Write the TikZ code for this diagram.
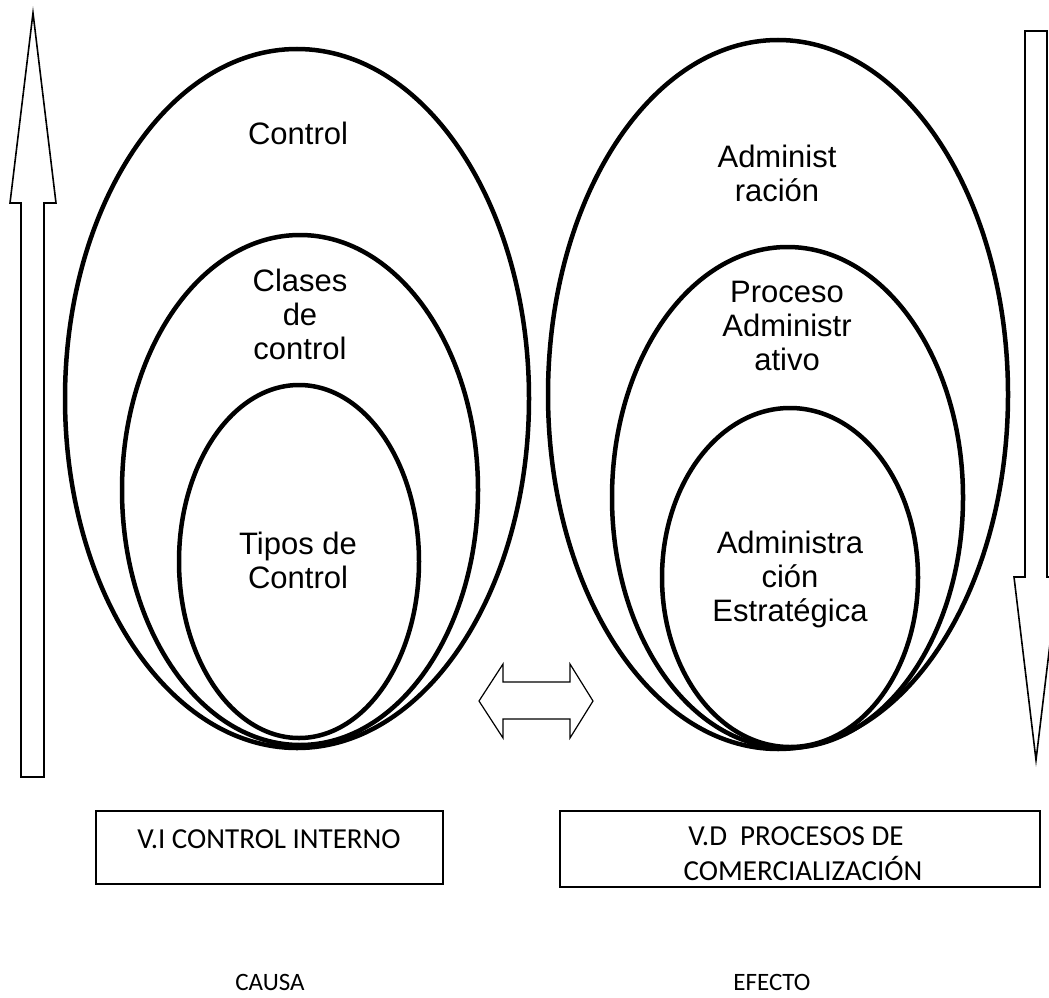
\documentclass[tikz,border=0pt]{standalone}
\usepackage{fontspec}
\setmainfont{Liberation Sans}
\newfontfamily\calib{Carlito}
\usetikzlibrary{shapes.geometric}
\begin{document}
\begin{tikzpicture}[x=1pt,y=-1pt,
  oval/.style={draw,ellipse,line width=4.5pt,inner sep=0pt},
  lbl/.style={align=center,inner sep=0pt,font=\fontsize{31}{34}\selectfont},
  blockarrow/.style={draw,line width=1.6pt,line join=miter,fill=white},
  framebox/.style={draw,line width=1.3pt,rectangle,inner sep=0pt},
  boxtext/.style={align=center,inner sep=0pt,font=\calib\fontsize{29}{35}\selectfont},
  foottext/.style={inner sep=0pt,font=\calib\fontsize{25}{30}\selectfont}]
\useasboundingbox (0,0) rectangle (1049,998);
\clip (0,0) rectangle (1049,998);
% left ellipses
\node[oval,minimum width=464pt,minimum height=699pt] (L1) at (297,398.5) {};
\node[oval,minimum width=356pt,minimum height=510pt] (L2) at (300,490) {};
\node[oval,minimum width=240pt,minimum height=353pt] (L3) at (299,561.5) {};
% right ellipses
\node[oval,minimum width=460pt,minimum height=709pt] (R1) at (778,394.5) {};
\node[oval,minimum width=351pt,minimum height=501pt] (R2) at (787.5,497.5) {};
\node[oval,minimum width=256pt,minimum height=339pt] (R3) at (790,577.5) {};
% labels
\node[lbl] (tL1) at (298,133) {Control};
\node[lbl] (tL2) at (300,314) {Clases\\de\\control};
\node[lbl] (tL3) at (298,560) {Tipos de\\Control};
\node[lbl] (tR1) at (777,173) {Administ\\ración};
\node[lbl] (tR2) at (787,326) {Proceso\\Administr\\ativo};
\node[lbl] (tR3) at (790,579) {Administra\\ción\\Estratégica};
% left up arrow
\draw[blockarrow] (21,777) -- (21,203) -- (10,203) -- (33,13) -- (56,203) -- (44,203) -- (44,777) -- cycle;
% right down arrow
\draw[blockarrow] (1025,31) -- (1047,31) -- (1047,577) -- (1058,577) -- (1036,760) -- (1014,577) -- (1025,577) -- cycle;
% middle double arrow
\draw[blockarrow,line width=1.2pt] (479,701) -- (503,664) -- (503,682) -- (570,682) -- (570,664) -- (593,701) -- (570,738) -- (570,719) -- (503,719) -- (503,738) -- cycle;
% boxes
\node[framebox,minimum width=347pt,minimum height=73pt] (B1) at (269.5,847.5) {};
\node[framebox,minimum width=480pt,minimum height=76pt] (B2) at (800,849) {};
\node[boxtext] (tB1) at (269,839) {V.I CONTROL INTERNO};
\node[boxtext] (tB2a) at (796,836) {V.D\ \ PROCESOS DE};
\node[boxtext] (tB2b) at (803,868) {COMERCIALIZACIÓN};
\node[foottext] (cause) at (270,982) {CAUSA};
\node[foottext] (effect) at (772,982) {EFECTO};
\end{tikzpicture}
\end{document}
